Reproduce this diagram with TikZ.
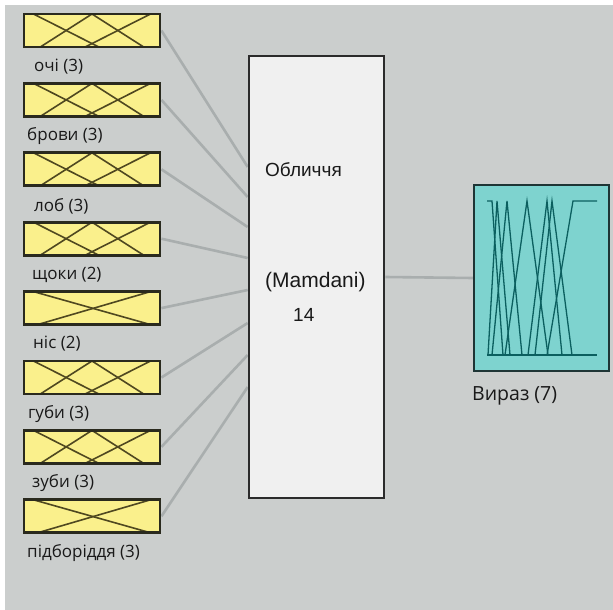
\documentclass[tikz,border=0pt]{standalone}
\usepackage{fontspec}
\setmainfont{Open Sans}
\newfontfamily\arialfont{Liberation Sans}
\usetikzlibrary{calc}

\definecolor{canvas}{HTML}{CBCECD}
\definecolor{wire}{HTML}{A9AEAE}
\definecolor{inyellow}{HTML}{FAF08C}
\definecolor{inedge}{HTML}{2A2A1E}
\definecolor{mfolive}{HTML}{4F4820}
\definecolor{corefill}{HTML}{F0F0F0}
\definecolor{coreedge}{HTML}{2B2B2B}
\definecolor{outteal}{HTML}{7ED3CF}
\definecolor{outedge}{HTML}{1E3535}
\definecolor{mfteal}{HTML}{0B5F5F}

\pgfdeclarelayer{backdrop}
\pgfdeclarelayer{wires}
\pgfsetlayers{backdrop,wires,main}

\tikzset{
  inbox/.style={draw=inedge, line width=2.8pt, fill=inyellow,
    minimum width=136pt, minimum height=33pt, inner sep=0pt},
  mfline/.style={draw=mfolive, line width=1.6pt},
  % three triangular membership functions
  mfthree/.style={path picture={
    \coordinate (nw) at (path picture bounding box.north west);
    \coordinate (se) at (path picture bounding box.south east);
    \draw[mfline] ($(nw)!0.07!(se|-nw)$) -- ($(nw|-se)!0.55!(se)$);
    \draw[mfline] ($(nw|-se)!0.12!(se)$) -- ($(nw)!0.50!(se|-nw)$) -- ($(nw|-se)!0.88!(se)$);
    \draw[mfline] ($(nw|-se)!0.45!(se)$) -- ($(nw)!0.93!(se|-nw)$);
  }},
  % two crossing membership functions
  mftwo/.style={path picture={
    \coordinate (nw) at (path picture bounding box.north west);
    \coordinate (se) at (path picture bounding box.south east);
    \draw[mfline] ($(nw)!0.07!(se|-nw)$) -- ($(nw|-se)!0.93!(se)$);
    \draw[mfline] ($(nw|-se)!0.10!(se)$) -- ($(nw)!0.93!(se|-nw)$);
  }},
  lbl/.style={anchor=west, inner sep=0pt, text=black!90,
    font=\fontsize{17}{20}\selectfont},
  coretext/.style={anchor=west, inner sep=0pt, text=black!90,
    font=\arialfont\fontsize{19}{22}\selectfont},
  wireline/.style={draw=wire, line width=2.6pt},
  corebox/.style={draw=coreedge, line width=2.6pt, fill=corefill,
    minimum width=135pt, minimum height=442pt, inner sep=0pt},
  outbox/.style={draw=outedge, line width=2.2pt, fill=outteal,
    minimum width=135pt, minimum height=186pt, inner sep=0pt},
  mfout/.style={draw=mfteal, line width=1.3pt, line join=miter},
}

\begin{document}
\begin{tikzpicture}[x=1pt,y=-1pt]
  \useasboundingbox (0,0) rectangle (613,610);
  \begin{pgfonlayer}{backdrop}
    \fill[white] (0,0) rectangle (613,610);
    \fill[canvas] (5,5) rectangle (613,610);
  \end{pgfonlayer}

  % input variables
  \node[inbox, mfthree] (in1) at (92,30.5)  {};
  \node[inbox, mfthree] (in2) at (92,99.9)  {};
  \node[inbox, mfthree] (in3) at (92,169.3) {};
  \node[inbox, mfthree] (in4) at (92,238.7) {};
  \node[inbox, mftwo]   (in5) at (92,308.1) {};
  \node[inbox, mfthree] (in6) at (92,377.5) {};
  \node[inbox, mfthree] (in7) at (92,446.9) {};
  \node[inbox, mftwo]   (in8) at (92,516.3) {};

  \node[lbl] (l1) at (34,67)  {очі (3)};
  \node[lbl] (l2) at (27,136) {брови (3)};
  \node[lbl] (l3) at (34,206) {лоб (3)};
  \node[lbl] (l4) at (32,275) {щоки (2)};
  \node[lbl] (l5) at (33,344) {ніс (2)};
  \node[lbl] (l6) at (28,414) {губи (3)};
  \node[lbl] (l7) at (32,483) {зуби (3)};
  \node[lbl] (l8) at (27,553) {підборіддя (3)};

  % rule base
  \node[corebox] (core) at (316.5,277) {};
  \node[coretext] (t1) at (265,170) {Обличчя};
  \node[coretext, font=\arialfont\fontsize{21}{24}\selectfont] (t2) at (265,282) {(Mamdani)};
  \node[coretext] (t3) at (293,315) {14};

  % output variable
  \node[outbox] (out) at (541.5,278) {};
  \node[lbl, font=\fontsize{19.5}{23}\selectfont] (lo) at (472,396) {Вираз (7)};
  \begin{scope}[mfout]
    \draw (487,355) -- (597,355);
    \draw (487,201) -- (492,201) -- (503,355);
    \draw (488,355) -- (497,201) -- (510,355);
    \draw (492,355) -- (507,201) -- (522,355);
    \draw (505,355) -- (527,201) -- (548,355);
    \draw (528,355) -- (547,201) -- (562,355);
    \draw (535,355) -- (552,201) -- (572,355);
    \draw (547,355) -- (573,201) -- (597,201);
  \end{scope}

  % connection points on the rule base
  \foreach \i/\y in {1/167,2/197,3/227,4/258,5/290,6/323,7/355,8/387}
    \coordinate (p\i) at (core.west |- 0,\y);

  \begin{pgfonlayer}{wires}
    \foreach \i in {1,...,8}
      \draw[wireline] (in\i.east) -- (p\i);
    \draw[wireline] (core.east) -- (out.west);
  \end{pgfonlayer}
\end{tikzpicture}
\end{document}
